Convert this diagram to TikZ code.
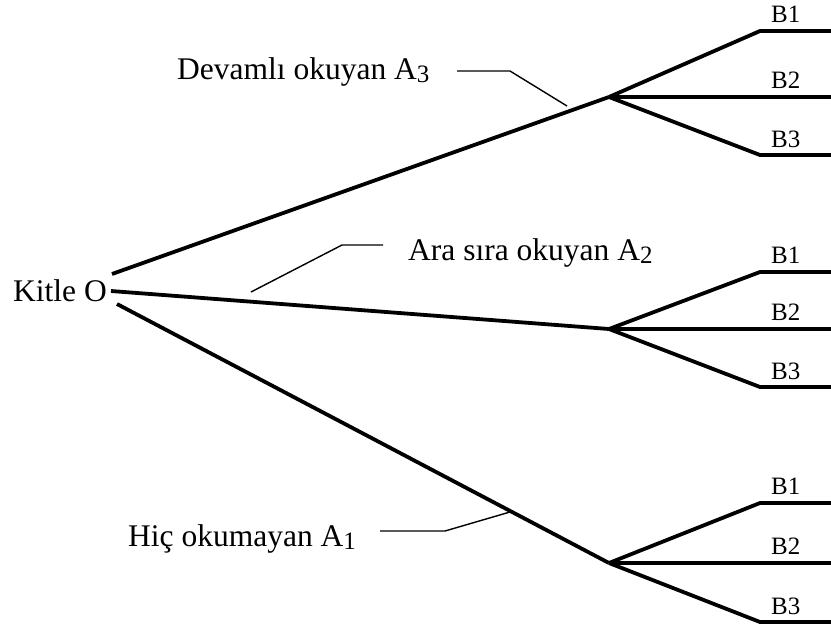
\documentclass[tikz,border=0pt]{standalone}
\usepackage{fontspec}
\setmainfont{Liberation Serif}
\usetikzlibrary{positioning}
\newcommand{\grp}[1]{\raisebox{-3pt}{\fontsize{25}{25}\selectfont #1}}

\begin{document}
\begin{tikzpicture}[
  x=1pt, y=-1pt,
  lbl/.style={inner sep=0pt, anchor=base west, font=\fontsize{31.5}{36}\selectfont},
  blbl/.style={inner sep=0pt, anchor=base west, font=\fontsize{25}{28}\selectfont},
  branch/.style={line width=3.8pt, line join=miter},
  lead/.style={line width=1.4pt}
]
  \useasboundingbox (0,0) rectangle (831,630);

  \node[lbl] (O) at (13,301) {Kitle O};
  \coordinate (o3) at (112,274);
  \coordinate (o2) at (111,291);
  \coordinate (o1) at (117,304);

  \coordinate (p3) at (609,97);
  \coordinate (p2) at (609,329);
  \coordinate (p1) at (609,563);

  \draw[branch] (o3) -- (p3);
  \draw[branch] (o2) -- (p2);
  \draw[branch] (o1) -- (p1);

  % B1, B2, B3 fan out of every group
  \foreach \g/\ya/\yb/\yc in {3/31/97/155, 2/272/329/387, 1/503/563/622} {
    \coordinate (u\g) at (760,\ya);
    \coordinate (d\g) at (760,\yc);
    \coordinate (eu\g) at (831,\ya);
    \coordinate (em\g) at (831,\yb);
    \coordinate (ed\g) at (831,\yc);
    \draw[branch] (p\g) -- (u\g) -- (eu\g);
    \draw[branch] (p\g) -- (em\g);
    \draw[branch] (p\g) -- (d\g) -- (ed\g);
    \node[blbl] (b\g1) at (771,\ya-9) {B1};
    \node[blbl] (b\g2) at (771,\yb-9) {B2};
    \node[blbl] (b\g3) at (771,\yc-8) {B3};
  }

  \node[lbl] (a3) at (177,79) {Devamlı okuyan A\grp{3}};
  \node[lbl] (a2) at (408,260) {Ara sıra okuyan A\grp{2}};
  \node[lbl] (a1) at (128,546) {Hiç okumayan A\grp{1}};

  % leaders
  \coordinate (s3) at (457,71);
  \coordinate (k3) at (510,71);
  \coordinate (t3) at (567,106);
  \draw[lead] (s3) -- (k3) -- (t3);

  \coordinate (s2) at (383,245);
  \coordinate (k2) at (342,245);
  \coordinate (t2) at (251,292);
  \draw[lead] (s2) -- (k2) -- (t2);

  \coordinate (s1) at (380,531);
  \coordinate (k1) at (445,531);
  \coordinate (t1) at (510,512);
  \draw[lead] (s1) -- (k1) -- (t1);
\end{tikzpicture}
\end{document}
